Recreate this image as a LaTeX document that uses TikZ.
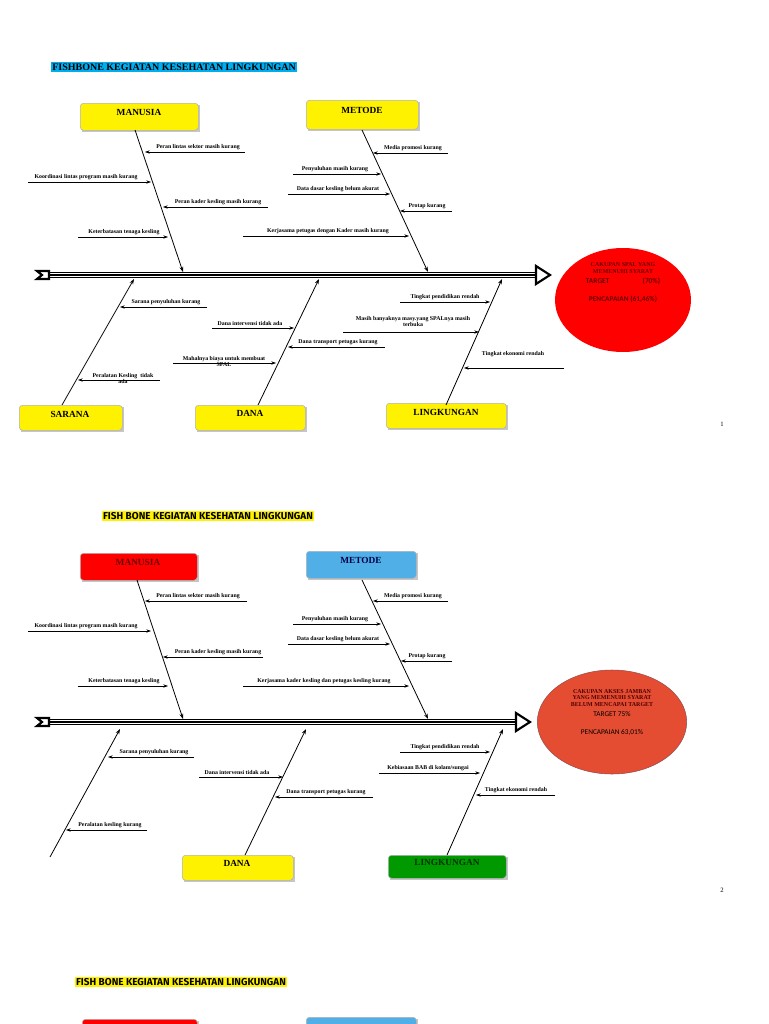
\documentclass[tikz,border=0pt]{standalone}
\usepackage{fontspec}
\setmainfont{Liberation Serif}
\newfontfamily\carl{Carlito}
\newfontfamily\fira{Fira Sans}
\usetikzlibrary{arrows.meta,shapes.geometric}
\newcommand\cz[6]{% name, x1, x2, y, label x, label
  \draw[ca] (#2,#4) -- (#3,#4);
  \node[lbl] (#1) at (#5,#4-5) {#6};}
\newcommand\spine[3]{% x1 x2 y
  \draw[line width=4.2pt,black] (#1+6,#3) -- (#2-8,#3);
  \draw[line width=2.6pt,white] (#1+6,#3) -- (#2-8,#3);
  \draw[line width=0.9pt,black] (#1+6,#3) -- (#2-8,#3);
  \draw[line width=1.6pt,black,fill=white,line join=miter] (#2-14,#3-9) -- (#2,#3) -- (#2-14,#3+9) -- cycle;
  \draw[line width=1.6pt,black,fill=white,line join=miter] (#1,#3-4) -- (#1+12,#3-4) -- (#1+12,#3+4) -- (#1,#3+4) -- (#1+5,#3) -- cycle;}
\newcommand\bx[6]{% name x1 y1 x2 y2 color
  \fill[gray!45] (#2+2,#3+2) rectangle (#4+2,#5+2);
  \node[box,fill=#6,minimum width=(#4-#2)*0.75pt,minimum height=(#5-#3)*0.75pt,anchor=north west] (#1) at (#2,#3) {};}
\begin{document}
\begin{tikzpicture}[x=0.75pt,y=-0.75pt,
  lbl/.style={font=\bfseries\fontsize{4.4}{5}\selectfont,inner sep=0.5pt,align=center},
  ca/.style={line width=0.5pt,-{Stealth[length=3.5pt,width=2.5pt]}},
  bone/.style={line width=0.6pt,-{Stealth[length=4pt,width=2.8pt]}},
  box/.style={draw=gray!60,line width=0.4pt,rounded corners=2.5pt,inner sep=0pt},
  bt/.style={font=\bfseries\fontsize{7}{8}\selectfont},
  et/.style={font=\bfseries\fontsize{4.5}{5.2}\selectfont,align=center,inner sep=0pt},
  es/.style={font=\carl\fontsize{5.5}{6}\selectfont,inner sep=0pt}]
\useasboundingbox (0,0) rectangle (768,1024);
\clip (0,0) rectangle (768,1024);
\fill[white] (0,0) rectangle (768,1024);
% ================= DIAGRAM 1
\node[fill=cyan,font=\bfseries\fontsize{7.5}{8}\selectfont,inner sep=1pt] (t1) at (174,67) {FISHBONE KEGIATAN KESEHATAN LINGKUNGAN};
\bx{m1}{80}{103}{198}{130}{yellow}\node[bt] at (139,112) {MANUSIA};
\bx{me1}{306}{100}{418}{129}{yellow}\node[bt] at (362,110) {METODE};
\bx{s1}{19}{405}{122}{430}{yellow}\node[bt] at (70,414) {SARANA};
\bx{d1}{195}{405}{305}{430}{yellow}\node[bt] at (250,413) {DANA};
\bx{l1}{386}{403}{506}{428}{yellow}\node[bt] at (446,412) {LINGKUNGAN};
\spine{37}{550}{275}
\draw[bone] (135,130) -- (183,272);
\draw[bone] (362,130) -- (428,272);
\draw[bone] (62,405) -- (134,279);
\draw[bone] (258,405) -- (319,279);
\draw[bone] (446,405) -- (502,279);
\cz{a1}{245}{145}{152}{198}{Peran lintas sektor masih kurang}
\cz{a2}{28}{151}{182}{86}{Koordinasi lintas program masih kurang}
\cz{a3}{268}{163}{207}{218}{Peran kader kesling masih kurang}
\cz{a4}{78}{168}{237}{124}{Keterbatasan tenaga kesling}
\cz{a5}{448}{373}{153}{413}{Media promosi kurang}
\cz{a6}{293}{381}{174}{335}{Penyuluhan masih kurang}
\cz{a7}{288}{390}{194}{338}{Data dasar kesling belum akurat}
\cz{a8}{452}{400}{211}{427}{Protap kurang}
\cz{a9}{243}{409}{236}{328}{Kerjasama petugas dengan Kader masih kurang}
\cz{b1}{207}{120}{307}{166}{Sarana penyuluhan kurang}
\draw[ca] (160,380) -- (78,380); \node[lbl,anchor=north] (b2) at (123,372) {Peralatan Kesling\ \ tidak\\ada};
\cz{b3}{212}{294}{328}{250}{Dana intervensi tidak ada}
\cz{b4}{385}{288}{347}{338}{Dana transport petugas kurang}
\draw[ca] (173,363) -- (276,363); \node[lbl,anchor=north] (b5) at (224,355) {Mahalnya biaya untuk membuat\\SPAL};
\cz{c1}{400}{490}{302}{445}{Tingkat pendidikan rendah}
\draw[ca] (343,332) -- (479,332); \node[lbl,anchor=north] (c2) at (413,315) {Masih banyaknya masy.yang SPALnya masih\\terbuka};
\draw[ca] (564,368) -- (464,368); \node[lbl] (c3) at (513,354) {Tingkat ekonomi rendah};
\node[fill=red,ellipse,minimum width=102pt,minimum height=78pt] (e1) at (623,300) {};
\node[et,text=red!40!black] (e1t) at (623,268) {CAKUPAN SPAL YANG\\MEMENUHI SYARAT};
\node[es,text=red!40!black,font=\carl\bfseries\fontsize{5.5}{6}\selectfont] (e1g) at (623,281) {TARGET\hspace{25pt}(70\%)};
\node[es,text=red!40!black,font=\carl\bfseries\fontsize{5.5}{6}\selectfont] (e1p) at (623,299) {PENCAPAIAN (61,46\%)};
\node[font=\fontsize{5}{6}\selectfont] (p1) at (722,424) {1};
% ================= DIAGRAM 2
\node[fill=yellow,font=\fira\bfseries\fontsize{7.5}{8}\selectfont,inner sep=1pt] (t2) at (208,516) {FISH BONE KEGIATAN KESEHATAN LINGKUNGAN};
\bx{m2}{80}{553}{197}{580}{red}\node[bt,text=red!40!black] at (138,562) {MANUSIA};
\bx{me2}{306}{551}{416}{578}{cyan!80!blue!70}\node[bt,text=blue!30!black] at (361,560) {METODE};
\bx{d2}{182}{855}{293}{880}{yellow}\node[bt] at (237,863) {DANA};
\bx{l2}{388}{855}{506}{878}{green!60!black}\node[bt,text=black!80!green] at (447,862) {LINGKUNGAN};
\spine{37}{530}{722}
\draw[bone] (137,580) -- (183,719);
\draw[bone] (362,580) -- (428,719);
\draw[bone] (50,857) -- (120,729);
\draw[bone] (245,855) -- (306,729);
\draw[bone] (447,855) -- (503,729);
\cz{e1a}{247}{145}{601}{198}{Peran lintas sektor masih kurang}
\cz{e2}{28}{151}{631}{86}{Koordinasi lintas program masih kurang}
\cz{e3}{263}{163}{657}{218}{Peran kader kesling masih kurang}
\cz{e4}{78}{168}{686}{124}{Keterbatasan tenaga kesling}
\cz{e5}{448}{373}{601}{413}{Media promosi kurang}
\cz{e6}{293}{381}{624}{335}{Penyuluhan masih kurang}
\cz{e7}{288}{390}{644}{338}{Data dasar kesling belum akurat}
\cz{e8}{452}{401}{661}{427}{Protap kurang}
\cz{e9}{243}{409}{686}{324}{Kerjasama kader kesling dan petugas kesling kurang}
\cz{f1}{194}{108}{757}{154}{Sarana penyuluhan kurang}
\cz{f2}{147}{66}{830}{110}{Peralatan kesling kurang}
\cz{f3}{199}{283}{777}{237}{Dana intervensi tidak ada}
\cz{f4}{373}{275}{797}{326}{Dana transport petugas kurang}
\cz{g1}{400}{490}{752}{445}{Tingkat pendidikan rendah}
\cz{g2}{379}{480}{773}{428}{Kebiasaan BAB di kolam/sungai}
\cz{g3}{555}{476}{795}{516}{Tingkat ekonomi rendah}
\node[fill=red!55!brown!90,draw=red!40!black!70,line width=0.4pt,ellipse,minimum width=112pt,minimum height=78pt] (el2) at (612,722) {};
\node[et,text=red!30!black] (el2t) at (612,698) {CAKUPAN AKSES JAMBAN\\YANG MEMENUHI SYARAT\\BELUM MENCAPAI TARGET};
\node[es] (el2g) at (612,714) {TARGET 75\%};
\node[es] (el2p) at (612,732) {PENCAPAIAN 63,01\%};
\node[font=\fontsize{5}{6}\selectfont] (p2) at (722,890) {2};
% ================= DIAGRAM 3 (cut)
\node[fill=yellow,font=\fira\bfseries\fontsize{7.5}{8}\selectfont,inner sep=1pt] (t3) at (181,982) {FISH BONE KEGIATAN KESEHATAN LINGKUNGAN};
\bx{m3}{82}{1019}{197}{1046}{red}
\bx{me3}{306}{1017}{416}{1044}{cyan!80!blue!70}
\end{tikzpicture}
\end{document}
